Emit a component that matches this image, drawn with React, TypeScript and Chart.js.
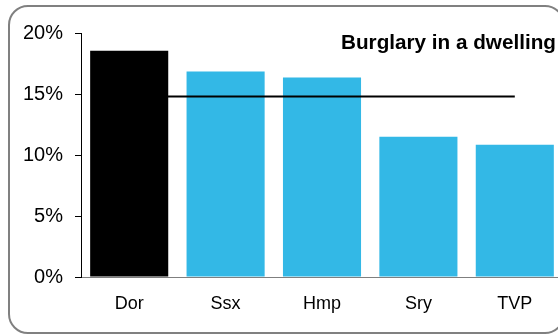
import React, { useEffect, useRef } from "react";
import { Chart, registerables } from "chart.js";

Chart.register(...registerables);

// ---- data ----
const categories = ["Dor", "Ssx", "Hmp", "Sry", "TVP"];
const rateValues = [18.55, 16.85, 16.35, 11.5, 10.85];
const averageValues = [14.8, 14.8, 14.8, 14.8, 14.8];
const highlightCategory = "Dor";
const yTickValues = [0, 5, 10, 15, 20];
const chartTitle = "Burglary in a dwelling";

const FONT = "'Liberation Sans', Arial, Helvetica, sans-serif";
const BLUE = "#33b8e6";

export default function App() {
  const canvasRef = useRef<HTMLCanvasElement | null>(null);

  useEffect(() => {
    const canvas = canvasRef.current;
    if (!canvas) return;
    const chart = new Chart(canvas, {
      type: "bar",
      data: {
        labels: categories,
        datasets: [
          {
            type: "line",
            label: "Average",
            data: averageValues,
            borderColor: "#000000",
            borderWidth: 2,
            pointRadius: 0,
            fill: false,
            order: 0,
          } as any,
          {
            type: "bar",
            label: chartTitle,
            data: rateValues,
            backgroundColor: categories.map((c) => (c === highlightCategory ? "#000000" : BLUE)),
            borderWidth: 0,
            barPercentage: 0.81,
            categoryPercentage: 1,
            order: 1,
          },
        ],
      },
      options: {
        responsive: false,
        animation: false,
        devicePixelRatio: 1,
        layout: { padding: { left: 0, right: 37, top: 33, bottom: 0 } },
        plugins: {
          legend: { display: false },
          tooltip: { enabled: false },
          title: { display: false },
        },
        scales: {
          x: {
            grid: { display: false, drawTicks: false },
            border: { display: true, color: "rgba(0,0,0,0.5)", width: 1, z: 1 },
            ticks: {
              padding: 16,
              color: "#000000",
              font: { family: FONT, size: 18 },
            },
            afterFit: (scale: any) => {
              scale.height = 58;
            },
          },
          y: {
            min: yTickValues[0],
            max: yTickValues[yTickValues.length - 1],
            grid: {
              display: true,
              drawOnChartArea: false,
              drawTicks: true,
              tickLength: 6,
              color: "#000000",
            },
            border: { display: true, color: "#000000", width: 1 },
            ticks: {
              stepSize: yTickValues[1] - yTickValues[0],
              padding: 12,
              color: "#000000",
              font: { family: FONT, size: 20 },
              callback: (v: any) => `${v}%`,
            },
            afterFit: (scale: any) => {
              scale.width = 81;
            },
          },
        },
      },
    });
    return () => chart.destroy();
  }, []);

  return (
    <div
      style={{
        position: "fixed",
        left: 0,
        top: 0,
        width: 558,
        height: 335,
        overflow: "hidden",
        background: "#ffffff",
      }}
    >
      <div
        style={{
          position: "absolute",
          left: 8,
          top: 5,
          width: 557,
          height: 329,
          boxSizing: "border-box",
          border: "2px solid #808080",
          borderRadius: 20,
        }}
      />
      <canvas
        ref={canvasRef}
        width={600}
        height={335}
        style={{ position: "absolute", left: 0, top: 0, width: 600, height: 335 }}
      />
      <div
        style={{
          position: "absolute",
          left: 341,
          top: 32,
          fontFamily: FONT,
          fontWeight: "bold",
          fontSize: 20.7,
          lineHeight: 1,
          whiteSpace: "nowrap",
          color: "#000000",
        }}
      >
        {chartTitle}
      </div>
    </div>
  );
}
